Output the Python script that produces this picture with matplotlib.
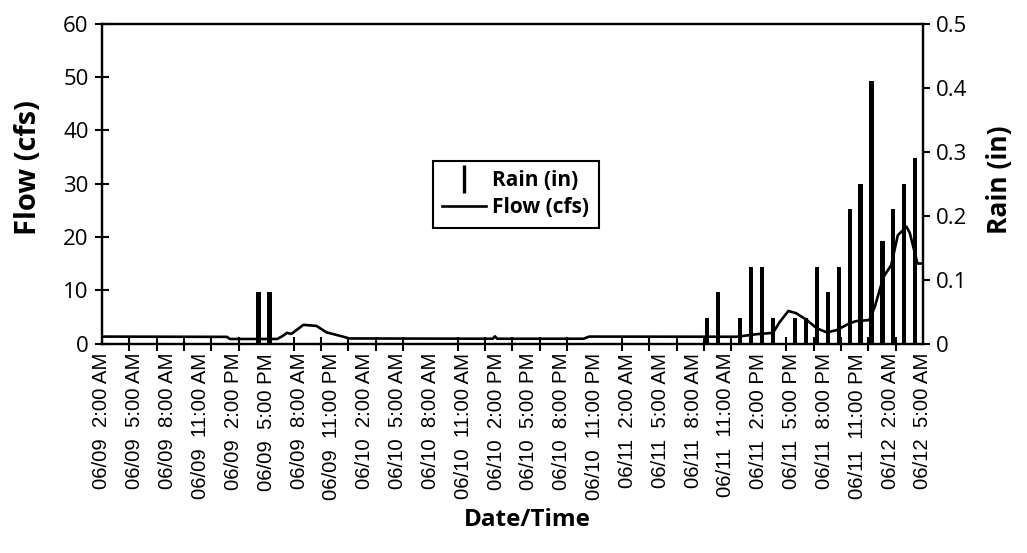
# ==========================================
# Flow and Rain - Date/Time chart
# ==========================================

import matplotlib
matplotlib.use("Agg")
import matplotlib.pyplot as plt
from matplotlib.lines import Line2D

# ==========================================
# Data
# ==========================================

# Hours after 06/09 2:00 AM

flow_hours = [0, 11.4, 11.7, 16.0, 16.5, 16.9, 17.3, 18.4, 19.6, 20.5,
              22.0, 22.6, 35.7, 35.9, 36.1, 44.0, 44.5, 58.0, 59.8,
              61.3, 61.9, 62.7, 63.4, 64.4, 65.3, 66.2, 67.1, 68.3,
              68.9, 70.1, 70.6, 71.4, 72.1, 72.7, 73.5, 73.8, 74.5, 75.0]

flow_cfs = [1.3, 1.25, 0.85, 0.85, 1.4, 2.0, 1.8, 3.5, 3.3, 2.1,
            1.3, 0.95, 0.9, 1.35, 0.9, 0.9, 1.3, 1.27, 1.75,
            2.0, 4.0, 6.1, 5.7, 4.4, 2.85, 2.1, 2.5, 3.8,
            4.2, 4.4, 6.9, 12.5, 14.7, 20.3, 21.9, 20.7, 15.0, 15.0]

rain_hours = [14.3, 15.3, 55.3, 56.3, 58.3, 59.3, 60.3, 61.3, 63.3, 64.3,
              65.3, 66.3, 67.3, 68.3, 69.3, 70.3, 71.3, 72.3, 73.3, 74.3]

rain_in = [0.08, 0.08, 0.04, 0.08, 0.04, 0.12, 0.12, 0.04, 0.04, 0.04,
           0.12, 0.08, 0.12, 0.21, 0.25, 0.41, 0.16, 0.21, 0.25, 0.29]

# Tick labels every 3 hours

label_hours = list(range(0, 76, 3))

tick_labels = [
    "06/09  2:00 AM", "06/09  5:00 AM", "06/09  8:00 AM", "06/09  11:00 AM",
    "06/09  2:00 PM", "06/09  5:00 PM", "06/09  8:00 AM", "06/09  11:00 PM",
    "06/10  2:00 AM", "06/10  5:00 AM", "06/10  8:00 AM", "06/10  11:00 AM",
    "06/10  2:00 PM", "06/10  5:00 PM", "06/10  8:00 PM", "06/10  11:00 PM",
    "06/11  2:00 AM", "06/11  5:00 AM", "06/11  8:00 AM", "06/11  11:00 AM",
    "06/11  2:00 PM", "06/11  5:00 PM", "06/11  8:00 PM", "06/11  11:00 PM",
    "06/12  2:00 AM", "06/12  5:00 AM",
]

# Tick marks every 2.5 hours

mark_hours = [i * 2.5 for i in range(31)]

flow_ticks = [0, 10, 20, 30, 40, 50, 60]
rain_ticks = [0, 0.1, 0.2, 0.3, 0.4, 0.5]
rain_tick_labels = ["0", "0.1", "0.2", "0.3", "0.4", "0.5"]

# ==========================================
# Figure
# ==========================================

title_font = "Open Sans"
label_font = "Liberation Sans"

fig, ax = plt.subplots(figsize=(10.27, 5.53), dpi=100)
fig.subplots_adjust(left=0.0993, right=0.8987, top=0.9575, bottom=0.3788)

ax2 = ax.twinx()

# Rain bars (right axis)

ax2.bar(rain_hours, rain_in, width=0.38, color="black", zorder=2)

# Flow line (left axis)

ax.plot(flow_hours, flow_cfs, color="black", linewidth=1.9, zorder=3)

# Put flow line above the bars
ax.set_zorder(ax2.get_zorder() + 1)
ax.patch.set_visible(False)

# ==========================================
# Axes
# ==========================================

ax.set_xlim(0, 75)
ax.set_ylim(0, 60)
ax2.set_ylim(0, 0.5)

ax.set_yticks(flow_ticks)
ax.set_yticklabels([str(v) for v in flow_ticks], fontfamily=title_font)
ax2.set_yticks(rain_ticks)
ax2.set_yticklabels(rain_tick_labels, fontfamily=title_font)

ax.set_xticks(label_hours)
ax.set_xticklabels(tick_labels, rotation=90, fontfamily=label_font,
                   fontsize=14.7, va="top", ha="center")
ax.set_xticks(mark_hours, minor=True)

ax.tick_params(axis="x", which="major", length=0, pad=6.8)
ax.tick_params(axis="x", which="minor", direction="inout",
               length=9.4, width=1.5)
ax.tick_params(axis="y", direction="inout", length=9.4, width=1.5,
               labelsize=16, pad=5)
ax2.tick_params(axis="y", direction="out", length=5, width=1.5,
                labelsize=16, pad=4.4)

for a in (ax, ax2):
    for s in a.spines.values():
        s.set_linewidth(1.6)
        s.set_color("black")

# ==========================================
# Titles
# ==========================================

fig.text(28 / 1027, 1 - 168 / 553, "Flow (cfs)", rotation=90,
         ha="center", va="center", fontsize=21, fontweight="bold",
         fontfamily=title_font)

fig.text(1000 / 1027, 1 - 180 / 553, "Rain (in)", rotation=90,
         ha="center", va="center", fontsize=19, fontweight="bold",
         fontfamily=title_font)

fig.text(527 / 1027, 1 - 520 / 553, "Date/Time",
         ha="center", va="center", fontsize=17.5, fontweight="bold",
         fontfamily=title_font)

# ==========================================
# Legend
# ==========================================

handles = [
    Line2D([], [], color="black", linestyle="none", marker="|",
           markersize=20, markeredgewidth=2.4),
    Line2D([], [], color="black", linewidth=1.9),
]

leg = ax.legend(handles, ["Rain (in)", "Flow (cfs)"],
                loc="center", bbox_to_anchor=(0.504, 0.467),
                prop={"family": title_font, "weight": "bold", "size": 15},
                frameon=True, fancybox=False, framealpha=1,
                edgecolor="black", handlelength=2.1, handletextpad=0.3,
                labelspacing=0.3, borderpad=0.45, borderaxespad=0)
leg.get_frame().set_linewidth(1.5)

plt.savefig("out.png", dpi=100)
